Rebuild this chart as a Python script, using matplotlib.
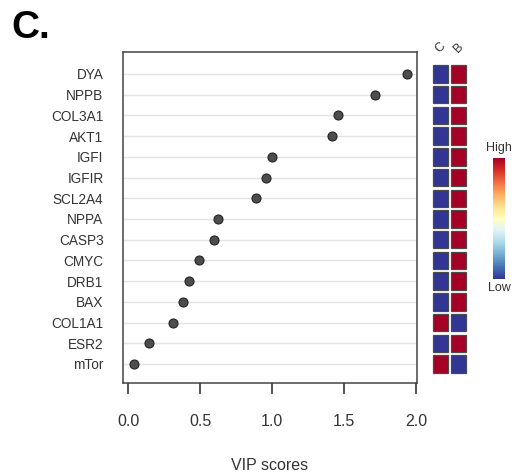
import numpy as np
import matplotlib
matplotlib.use("Agg")
import matplotlib.pyplot as plt
from matplotlib.patches import Rectangle
from matplotlib.colors import Normalize

plt.rcParams['font.family'] = ['Liberation Sans', 'DejaVu Sans']

# Features ordered top to bottom
genes = ["DYA", "NPPB", "COL3A1", "AKT1", "IGFI", "IGFIR", "SCL2A4", "NPPA",
         "CASP3", "CMYC", "DRB1", "BAX", "COL1A1", "ESR2", "mTor"]
vip = [1.94, 1.715, 1.46, 1.42, 1.00, 0.96, 0.89, 0.625,
       0.60, 0.495, 0.42, 0.38, 0.31, 0.145, 0.04]
groups = ["C", "B"]
# relative group level per feature: 1 = high, 0 = low
level_C = [0, 0, 0, 0, 0, 0, 0, 0, 0, 0, 0, 0, 1, 0, 1]
level_B = [1, 1, 1, 1, 1, 1, 1, 1, 1, 1, 1, 1, 0, 1, 0]
xticks = [0.0, 0.5, 1.0, 1.5, 2.0]

W, H = 512, 476
fig = plt.figure(figsize=(W / 100, H / 100), dpi=100)

def box(x0, y0, x1, y1):
    return [x0 / W, 1 - y1 / H, (x1 - x0) / W, (y1 - y0) / H]

n = len(genes)
ypos = np.arange(n)[::-1]
ylim = (-0.92, n - 1 + 1.06)

ax = fig.add_axes(box(123, 52, 417, 383))
for y in ypos:
    ax.axhline(y, color="#e3e3e3", lw=1.0, zorder=1)
ax.scatter(vip, ypos, s=42, color="#4d4d4d", edgecolors="#222222",
           linewidths=0.8, zorder=3)
ax.set_xlim(-0.035, 2.007)
ax.set_ylim(*ylim)
ax.set_yticks(ypos)
ax.set_yticklabels(genes, fontsize=9.8, color="#333333")
ax.tick_params(axis="y", length=0, pad=14)
ax.set_xticks(xticks)
ax.set_xticklabels([f"{t:.1f}" for t in xticks], fontsize=11.5, color="#333333")
ax.tick_params(axis="x", length=8, width=1.3, color="#444444", pad=14)
for s in ax.spines.values():
    s.set_color("#444444")
    s.set_linewidth(1.1)
ax.set_xlabel("VIP scores", fontsize=11.5, color="#333333", labelpad=21)

# Group level heatmap beside the dot plot
cmap = plt.get_cmap("RdYlBu_r")
hx = fig.add_axes(box(431, 52, 468, 383), sharey=ax)
hx.set_xlim(0, 2)
for j, lev in enumerate([level_C, level_B]):
    for y, v in zip(ypos, lev):
        hx.add_patch(Rectangle((j + 0.1, y - 0.42), 0.8, 0.84,
                               facecolor=cmap(float(v)), edgecolor="#4a4a4a",
                               lw=0.9))
    hx.text(j + 0.5, n - 1 + 0.9, groups[j], rotation=45, ha="center",
            va="bottom", fontsize=9, color="#333333")
hx.axis("off")
hx.set_ylim(*ylim)

# Colour key
cx = fig.add_axes(box(493, 158, 505, 279))
grad = np.linspace(0, 1, 256)[:, None]
cx.imshow(grad, aspect="auto", cmap=cmap, origin="lower",
          norm=Normalize(0, 1), extent=[0, 1, 0, 1])
cx.set_xticks([])
cx.set_yticks([])
for s in cx.spines.values():
    s.set_visible(False)
fig.text(499 / W, 1 - 148 / H, "High", ha="center", va="center",
         fontsize=9, color="#333333")
fig.text(499 / W, 1 - 288 / H, "Low", ha="center", va="center",
         fontsize=9, color="#333333")

fig.text(11 / W, 1 - 28 / H, "C.", ha="left", va="center",
         fontsize=28, fontweight="bold", color="black")

fig.savefig("out.png", dpi=100)
